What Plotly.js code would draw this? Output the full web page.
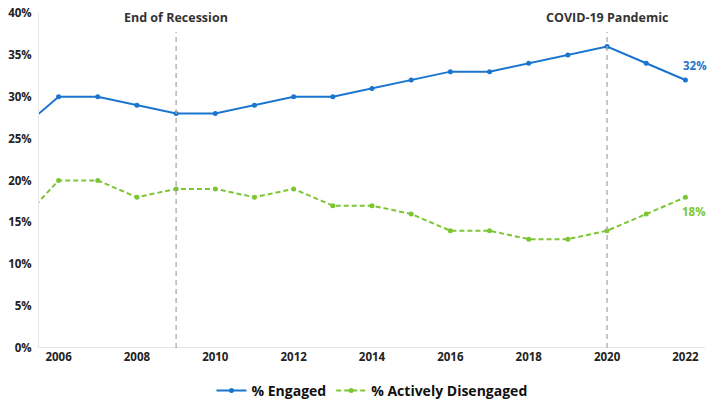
<!DOCTYPE html>
<html><head><meta charset="utf-8">
<script src="https://cdn.plot.ly/plotly-3.0.1.min.js"></script>
<style>html,body{margin:0;padding:0;background:#fff}#chart{width:720px;height:405px}</style>
</head><body><div id="chart"></div>
<script>
const years = [2005,2006,2007,2008,2009,2010,2011,2012,2013,2014,2015,2016,2017,2018,2019,2020,2021,2022];
const engaged = [26,30,30,29,28,28,29,30,30,31,32,33,33,34,35,36,34,32];
const disengaged = [15,20,20,18,19,19,18,19,17,17,16,14,14,13,13,14,16,18];
const yTicks = [0,5,10,15,20,25,30,35,40];
const xTicks = [2006,2008,2010,2012,2014,2016,2018,2020,2022];
const events = [{year:2009,label:"End of Recession"},{year:2020,label:"COVID-19 Pandemic"}];

const blue = '#1a75cf', green = '#7cc634';
const fontFam = '"Open Sans", Lato, sans-serif';
const traces = [
  {x:years,y:engaged,name:'% Engaged',mode:'lines+markers',line:{color:blue,width:2},marker:{size:5,color:blue},cliponaxis:true},
  {x:years,y:disengaged,name:'% Actively Disengaged',mode:'lines+markers',line:{color:green,width:2,dash:'5px,3px'},marker:{size:5,color:green},cliponaxis:true}
];
const n = years.length-1;
const layout = {
  width:720,height:405,margin:{l:39,r:15,t:13,b:57,autoexpand:false},
  paper_bgcolor:'#fff',plot_bgcolor:'#fff',
  font:{family:fontFam,color:'#222',size:12},
  showlegend:true,
  legend:{orientation:'h',x:0.5,xanchor:'center',y:-0.128,yanchor:'middle',itemwidth:30,font:{size:14,weight:700,color:'#111'}},
  xaxis:{range:[2005.5,2022.5],tickvals:xTicks,ticktext:xTicks.map(String),showgrid:false,zeroline:false,showline:false,ticks:'',tickfont:{size:11.5,weight:700,color:'#222'},fixedrange:true,automargin:false},
  yaxis:{range:[0,40],tickvals:yTicks,ticktext:yTicks.map(v=>v+'%'),showgrid:false,zeroline:false,showline:true,linecolor:'#e6e6e6',linewidth:1,ticks:'',tickfont:{size:11.5,weight:700,color:'#222'},ticklabelstandoff:4,automargin:false},
  shapes: [
    {type:'line',xref:'paper',yref:'y',x0:0,x1:1,y0:0,y1:0,line:{color:'#e6e6e6',width:2}},
    ...events.map(e=>({type:'line',xref:'x',yref:'paper',x0:e.year,x1:e.year,y0:0,y1:0.943,line:{color:'#aaaaaa',width:1.3,dash:'5px,4px'}}))
  ],
  annotations: [
    ...events.map(e=>({xref:'x',yref:'paper',x:e.year,y:0.988,text:e.label,showarrow:false,xanchor:'center',yanchor:'middle',font:{size:12.5,weight:700,color:'#333'}})),
    {xref:'x',yref:'y',x:years[n],y:engaged[n],text:engaged[n]+'%',showarrow:false,xanchor:'left',yanchor:'bottom',xshift:-4,yshift:5,font:{size:11.5,weight:700,color:blue}},
    {xref:'x',yref:'y',x:years[n],y:disengaged[n],text:disengaged[n]+'%',showarrow:false,xanchor:'left',yanchor:'top',xshift:-5,yshift:-5,font:{size:11.5,weight:700,color:green}}
  ]
};
Plotly.newPlot('chart',traces,layout,{displayModeBar:false,staticPlot:true});
</script></body></html>
